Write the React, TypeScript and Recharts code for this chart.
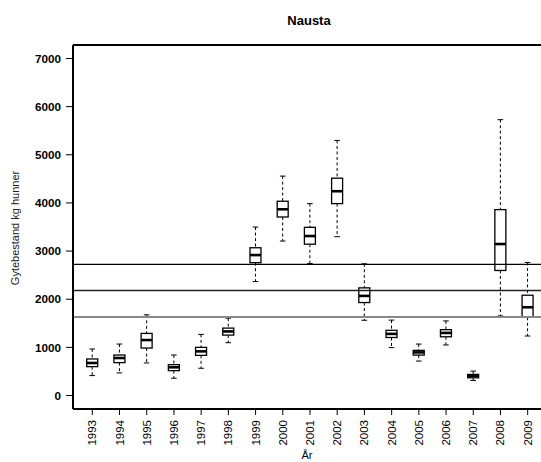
import React from 'react';
import { ComposedChart, Bar, XAxis, YAxis, ReferenceLine } from 'recharts';

const years = ['1993', '1994', '1995', '1996', '1997', '1998', '1999', '2000', '2001',
  '2002', '2003', '2004', '2005', '2006', '2007', '2008', '2009'];
const whiskerHigh = [966, 1069, 1676, 841, 1269, 1607, 3499, 4557, 3985, 5298, 2736, 1566, 1069, 1549, 507, 5729, 2764];
const upperQuartile = [759, 841, 1290, 641, 1000, 1400, 3069, 4035, 3493, 4514, 2236, 1354, 938, 1368, 438, 3861, 2083];
const medians = [676, 779, 1152, 586, 917, 1331, 2917, 3868, 3312, 4243, 2069, 1280, 896, 1300, 410, 3146, 1833];
const lowerQuartile = [600, 683, 986, 517, 834, 1255, 2759, 3708, 3143, 3986, 1931, 1205, 840, 1220, 368, 2597, 1625];
const whiskerLow = [414, 469, 676, 359, 566, 1097, 2366, 3208, 2740, 3299, 1563, 995, 715, 1050, 313, 1653, 1236];
const yTicks = [0, 1000, 2000, 3000, 4000, 5000, 6000, 7000];
const refLines = [2722, 2181, 1632];

const rows = years.map((year, i) => ({
  pos: i + 1,
  year,
  lo: whiskerLow[i],
  q1: lowerQuartile[i],
  med: medians[i],
  q3: upperQuartile[i],
  hi: whiskerHigh[i],
}));

const FONT = '"Liberation Sans", Arial, Helvetica, sans-serif';

// draws the whole box from the bar's [lo, hi] geometry
const BoxShape = (props: any) => {
  const { x, y, width, height, payload } = props;
  if (!payload || height == null) return null;
  const { lo, q1, med, q3, hi } = payload;
  const k = height / (hi - lo || 1);
  const yOf = (v: number) => y + (hi - v) * k;
  const cx = x + width / 2;
  const cap = 2.8;
  return (
    <g>
      <line x1={cx} x2={cx} y1={yOf(hi)} y2={yOf(q3)} stroke="#000" strokeDasharray="3 2.5" />
      <line x1={cx} x2={cx} y1={yOf(q1)} y2={yOf(lo)} stroke="#000" strokeDasharray="3 2.5" />
      <line x1={cx - cap} x2={cx + cap} y1={yOf(hi)} y2={yOf(hi)} stroke="#000" />
      <line x1={cx - cap} x2={cx + cap} y1={yOf(lo)} y2={yOf(lo)} stroke="#000" />
      <rect x={x} y={yOf(q3)} width={width} height={Math.max(yOf(q1) - yOf(q3), 1)}
        fill="#fff" stroke="#000" strokeWidth={1.3} />
      <line x1={x} x2={x + width} y1={yOf(med)} y2={yOf(med)} stroke="#000" strokeWidth={2.6} />
    </g>
  );
};

const YearTick = ({ x, y, payload }: any) => (
  <text x={x} y={y} transform={`rotate(-90 ${x} ${y})`} textAnchor="end"
    dominantBaseline="central" fontSize={11.5} fontFamily={FONT} fill="#000">
    {years[payload.value - 1]}
  </text>
);

export default function App() {
  return (
    <div style={{
      position: 'absolute', left: 0, top: 0, width: 541, height: 462,
      overflow: 'hidden', background: '#fff', fontFamily: FONT
    }}>
      <div style={{
        position: 'absolute', left: 309, top: 20, transform: 'translate(-50%, -50%)',
        fontSize: 13, fontWeight: 700, color: '#000', whiteSpace: 'nowrap'
      }}>Nausta</div>
      <div style={{
        position: 'absolute', left: 15, top: 228, transform: 'translate(-50%, -50%) rotate(-90deg)',
        fontSize: 11, color: '#222', whiteSpace: 'nowrap'
      }}>Gytebestand kg hunner</div>
      <div style={{
        position: 'absolute', left: 307, top: 455, transform: 'translate(-50%, -50%)',
        fontSize: 11, color: '#000', whiteSpace: 'nowrap'
      }}>År</div>
      <ComposedChart width={560} height={462} data={rows}
        margin={{ top: 45, right: 13, left: 0, bottom: 0 }}>
        <XAxis type="number" dataKey="pos" domain={[0.29, 17.71]} allowDataOverflow
          ticks={rows.map(r => r.pos)} interval={0} height={53}
          tickSize={6} tickMargin={5} tick={<YearTick />}
          axisLine={{ stroke: '#000', strokeWidth: 2 }} tickLine={{ stroke: '#000' }} />
        <YAxis type="number" domain={[-280, 7280]} allowDataOverflow ticks={yTicks} width={73}
          tickSize={7} tickMargin={5}
          tick={{ fontSize: 11.7, fontWeight: 700, fill: '#000', fontFamily: FONT }}
          axisLine={{ stroke: '#000', strokeWidth: 2 }} tickLine={{ stroke: '#000' }} />
        <Bar dataKey={(d: any) => [d.lo, d.hi]} barSize={11} shape={BoxShape} isAnimationActive={false} />
        <ReferenceLine y={refLines[0]} stroke="#000" strokeWidth={1.2} />
        <ReferenceLine y={refLines[1]} stroke="#222" strokeWidth={1.5} />
        <ReferenceLine y={refLines[2]} stroke="#888" strokeWidth={2} />
        <ReferenceLine y={7280} stroke="#000" strokeWidth={2} />
      </ComposedChart>
    </div>
  );
}
